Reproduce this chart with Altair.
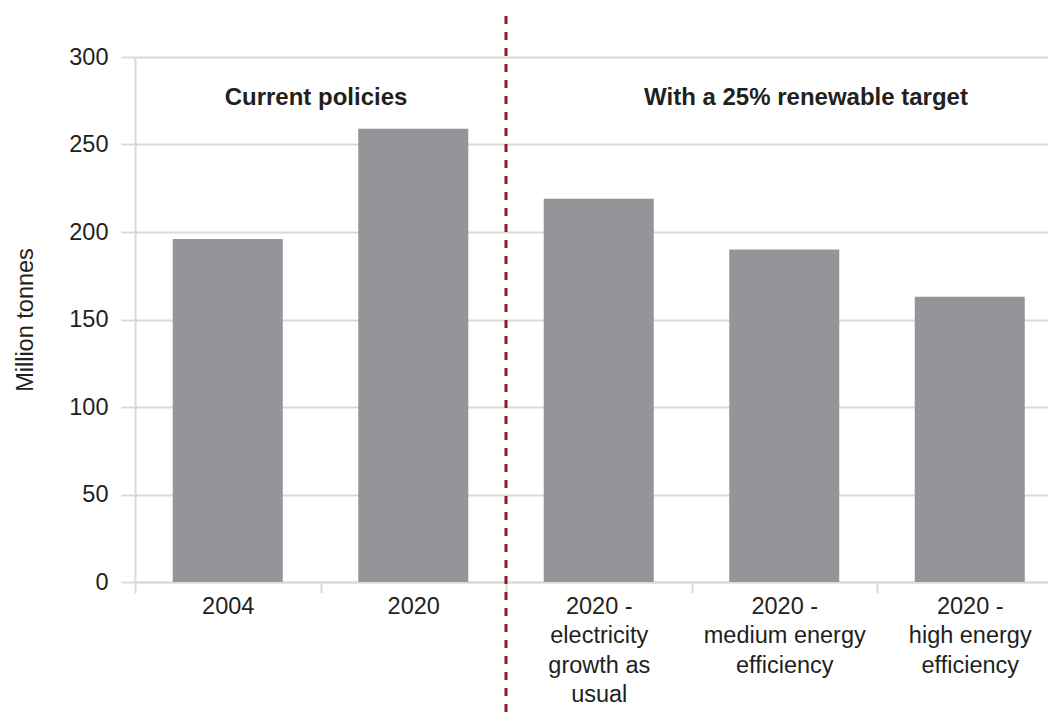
import altair as alt
import pandas as pd

# Emissions by scenario (million tonnes)
categories = [
    "2004",
    "2020",
    "2020 -\nelectricity\ngrowth as\nusual",
    "2020 -\nmedium energy\nefficiency",
    "2020 -\nhigh energy\nefficiency",
]
emissions = [196, 259, 219, 190, 163]

group_labels = ["Current policies", "With a 25% renewable target"]

# Category where the renewable-target scenarios begin
divider_category = categories[2]

FONT = "Liberation Sans"
TEXT = "#231f20"
GRID = "#dadada"
BAR = "#939598"
DIVIDER = "#8c1a21"

df = pd.DataFrame({"scenario": categories, "emissions": emissions})

W, H = 913, 525
STEP_RANGE = [0, 927.5]

x_enc = alt.X(
    "scenario:N",
    sort=categories,
    scale=alt.Scale(range=STEP_RANGE, paddingInner=0, paddingOuter=0),
    axis=alt.Axis(
        title=None,
        labelAngle=0,
        labelExpr="split(datum.label, '\\n')",
        labelFont=FONT,
        labelFontSize=23.5,
        labelColor=TEXT,
        labelLineHeight=29.5,
        labelBaseline="top",
        labelPadding=1,
        labelAlign="center",
        tickBand="extent",
        tickSize=11,
        tickColor=GRID,
        tickWidth=2,
        domainColor=GRID,
        domainWidth=2,
        grid=False,
    ),
)

bars = alt.Chart(df).mark_bar(color=BAR, width=alt.RelativeBandSize(0.593)).encode(
    x=x_enc,
    y=alt.Y(
        "emissions:Q",
        scale=alt.Scale(domain=[0, 300], nice=False),
        axis=alt.Axis(
            title="Million tonnes",
            titleFont=FONT,
            titleFontSize=23.5,
            titleFontWeight="normal",
            titleColor=TEXT,
            titleX=-103,
            titleY=H / 2,
            titleAngle=270,
            titleAlign="center",
            titleBaseline="alphabetic",
            values=[0, 50, 100, 150, 200, 250, 300],
            labelFont=FONT,
            labelFontSize=23.5,
            labelColor=TEXT,
            labelPadding=13,
            tickSize=14,
            tickColor=GRID,
            tickWidth=2,
            domainColor=GRID,
            domainWidth=2,
            gridColor=GRID,
            gridWidth=2,
        ),
    ),
)

divider = (
    alt.Chart(pd.DataFrame({"scenario": [divider_category]}))
    .mark_rule(color=DIVIDER, strokeWidth=3, strokeDash=[8, 8])
    .encode(
        x=alt.X("scenario:N", sort=categories, bandPosition=0),
        y=alt.value(-41),
        y2=alt.value(655),
    )
)

headers = (
    alt.Chart(pd.DataFrame({"label": group_labels, "px": [181, 671]}))
    .mark_text(font=FONT, fontSize=24, fontWeight="bold", color=TEXT,
               align="center", baseline="alphabetic")
    .encode(x=alt.X("px:Q", scale=None), y=alt.value(48), text="label:N")
)

chart = (
    alt.layer(bars, divider, headers)
    .properties(
        width=W,
        height=H,
        autosize=alt.AutoSizeParams(type="none"),
        padding={"left": 135, "top": 57, "right": 0, "bottom": 138},
    )
    .configure_view(stroke=None)
    .configure(background="white")
)

chart.save("out.html", embed_options={"renderer": "svg", "actions": False})
